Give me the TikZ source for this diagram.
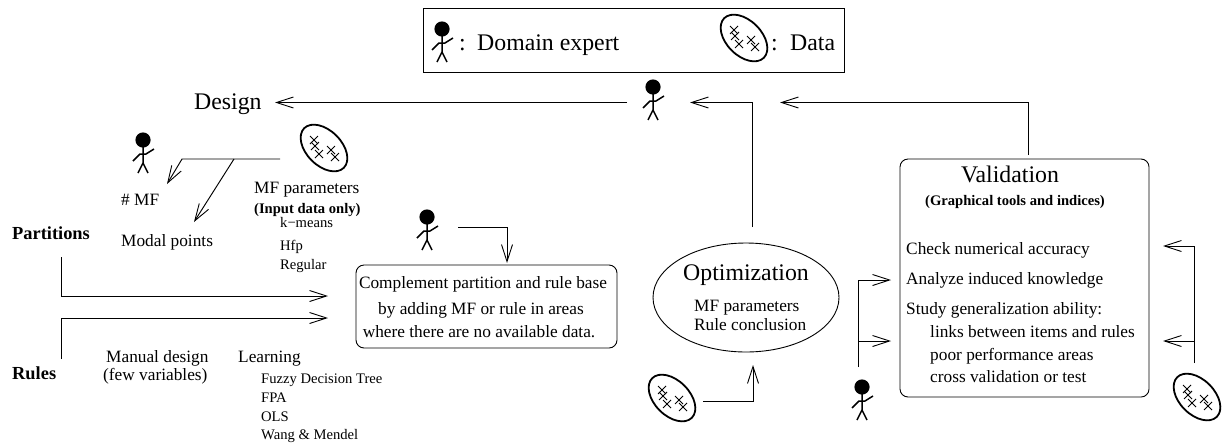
\documentclass[tikz,border=0pt]{standalone}
\usepackage{fontspec}
\setmainfont{Liberation Serif}
\usetikzlibrary{arrows.meta, shapes.geometric}

\tikzset{
  big/.style = {font = \fontsize{23.8}{26}\selectfont},
  body/.style = {font = \fontsize{17.3}{20}\selectfont},
  bodybold/.style = {font = \fontsize{18.4}{20}\selectfont\bfseries},
  small/.style = {font = \fontsize{14.6}{16}\selectfont},
  txt/.style = {inner sep = 0, anchor = base west},
  box/.style = {draw, rounded corners = 8, line width = 0.9},
  flow/.style = {line width = 0.95, -{Straight Barb[length = 17, width = 11, line width = 0.9]}},
  expert/.pic = {
    \fill (0, 0) circle (7.6);
    \draw[line width = 1.5] (0, 5) -- (0, 23) (-5, 33) -- (0, 23) -- (5, 33);
    \draw[line width = 1.5] (-10, 21) -- (-3, 14) -- (3, 14) -- (11, 9);
  },
  dataset/.pic = {
    \draw[line width = 1.8, rotate = -45] (0, 0) ellipse (28 and 17.5);
    \foreach \cx/\cy in {-10/-8, -9/-2, -5/6, 7/2, 11/9}
      \draw[line width = 0.8] (\cx - 4, \cy - 4) -- (\cx + 4, \cy + 4) (\cx - 4, \cy + 4) -- (\cx + 4, \cy - 4);
  },
}

\begin{document}
\begin{tikzpicture}[x = 1pt, y = -1pt]
\useasboundingbox (0, 0) rectangle (1225, 445);

% legend
\node[draw, line width = 0.9, minimum width = 421, minimum height = 64, inner sep = 0] (legend) at (633.5, 40) {};
\pic at (442, 29) {expert};
\node[big, txt] (legendcolona) at (459, 50) {:};
\node[big, txt] (legendexpert) at (477, 50) {Domain expert};
\pic at (744, 38) {dataset};
\node[big, txt] (legendcolonb) at (771, 50) {:};
\node[big, txt] (legenddata) at (790, 50) {Data};

% design
\node[big, txt] (design) at (194, 109) {Design};
\pic at (653, 87) {expert};
\pic at (143, 140) {expert};
\pic at (324, 148) {dataset};
\node[body, txt] (nbmf) at (121, 205) {\# MF};
\node[body, txt] (modal) at (121, 246) {Modal points};
\node[body, txt] (mfparam) at (254, 193) {MF parameters};
\node[small, txt] (inputonly) at (254, 213) {\textbf{(Input data only)}};
\node[small, txt] (kmeans) at (280, 227) {k−means};
\node[small, txt] (hfp) at (280, 250) {Hfp};
\node[small, txt] (regular) at (280, 269) {Regular};

% partitions and rules
\node[bodybold, txt] (partitions) at (12, 239) {Partitions};
\node[bodybold, txt] (rules) at (12, 379) {Rules};
\node[body, txt] (manual) at (106, 362) {Manual design};
\node[body, txt] (fewvar) at (103, 380) {(few variables)};
\node[body, txt] (learning) at (238, 362) {Learning};
\node[small, txt] (fdt) at (261, 383) {Fuzzy Decision Tree};
\node[small, txt] (fpa) at (261, 402) {FPA};
\node[small, txt] (ols) at (261, 421) {OLS};
\node[small, txt] (wm) at (261, 439) {Wang \& Mendel};

% complement
\node[box, minimum width = 261, minimum height = 83, inner sep = 0] (complement) at (486.5, 306.5) {};
\pic at (427, 217) {expert};
\node[body, inner sep = 0, anchor = base] (compa) at (483, 288) {Complement partition and rule base};
\node[body, inner sep = 0, anchor = base] (compb) at (481, 314) {by adding MF or rule in areas};
\node[body, inner sep = 0, anchor = base] (compc) at (479, 337) {where there are no available data.};

% optimization
\node[draw, ellipse, line width = 0.9, minimum width = 186, minimum height = 109, inner sep = 0] (optim) at (746, 297.5) {};
\node[big, inner sep = 0, anchor = base] (optimtitle) at (746, 280) {Optimization};
\node[body, txt] (optimmf) at (694, 311) {MF parameters};
\node[body, txt] (optimrule) at (694, 330) {Rule conclusion};
\pic at (672, 398) {dataset};

% validation
\node[box, minimum width = 249, minimum height = 238, inner sep = 0] (valid) at (1024.5, 278) {};
\node[big, inner sep = 0, anchor = base] (validtitle) at (1010, 182) {Validation};
\node[small, inner sep = 0, anchor = base] (validsub) at (1015, 205) {\textbf{(Graphical tools and indices)}};
\node[body, txt] (check) at (906, 254) {Check numerical accuracy};
\node[body, txt] (analyze) at (906, 284) {Analyze induced knowledge};
\node[body, txt] (study) at (906, 314) {Study generalization ability:};
\node[body, txt] (links) at (930, 337) {links between items and rules};
\node[body, txt] (poor) at (930, 360) {poor performance areas};
\node[body, txt] (cross) at (930, 382) {cross validation or test};
\pic at (862, 387) {expert};
\pic at (1197, 397) {dataset};

% free ends of the arrows
\coordinate (topa) at (627, 102.5);
\coordinate (designin) at (275, 102.5);
\coordinate (optimout) at (752.5, 227);
\coordinate (optimup) at (752.5, 102.5);
\coordinate (expertin) at (690, 102.5);
\coordinate (validout) at (1028, 155);
\coordinate (validup) at (1028, 102.5);
\coordinate (expertinb) at (780, 102.5);
\coordinate (dsgnstart) at (280, 159);
\coordinate (dsgnbend) at (182, 159);
\coordinate (dsgnbranch) at (234, 159);
\coordinate (nbmfin) at (167, 184);
\coordinate (modalin) at (194, 222);
\coordinate (partstart) at (61, 257);
\coordinate (partbend) at (61, 296);
\coordinate (partend) at (328, 296);
\coordinate (rulestart) at (61, 359);
\coordinate (rulebend) at (61, 318);
\coordinate (ruleend) at (328, 318);
\coordinate (compstart) at (458, 227);
\coordinate (compbend) at (507, 227);
\coordinate (compin) at (507, 263);
\coordinate (datastart) at (703, 401);
\coordinate (databend) at (753, 401);
\coordinate (optimin) at (753, 365);
\coordinate (leftstart) at (858, 367);
\coordinate (leftbend) at (858, 280);
\coordinate (leftin) at (891, 280);
\coordinate (leftbranch) at (858, 341);
\coordinate (leftinb) at (891, 341);
\coordinate (rightstart) at (1194, 363);
\coordinate (rightbend) at (1194, 246);
\coordinate (rightin) at (1163, 246);
\coordinate (rightbranch) at (1194, 341);
\coordinate (rightinb) at (1163, 341);

\draw[flow] (topa) -- (designin);
\draw[flow] (optimout) -- (optimup) -- (expertin);
\draw[flow] (validout) -- (validup) -- (expertinb);
\draw[flow] (dsgnstart) -- (dsgnbend) -- (nbmfin);
\draw[flow] (dsgnbranch) -- (modalin);
\draw[flow] (partstart) -- (partbend) -- (partend);
\draw[flow] (rulestart) -- (rulebend) -- (ruleend);
\draw[flow] (compstart) -- (compbend) -- (compin);
\draw[flow] (datastart) -- (databend) -- (optimin);
\draw[flow] (leftstart) -- (leftbend) -- (leftin);
\draw[flow] (leftbranch) -- (leftinb);
\draw[flow] (rightstart) -- (rightbend) -- (rightin);
\draw[flow] (rightbranch) -- (rightinb);
\end{tikzpicture}
\end{document}
